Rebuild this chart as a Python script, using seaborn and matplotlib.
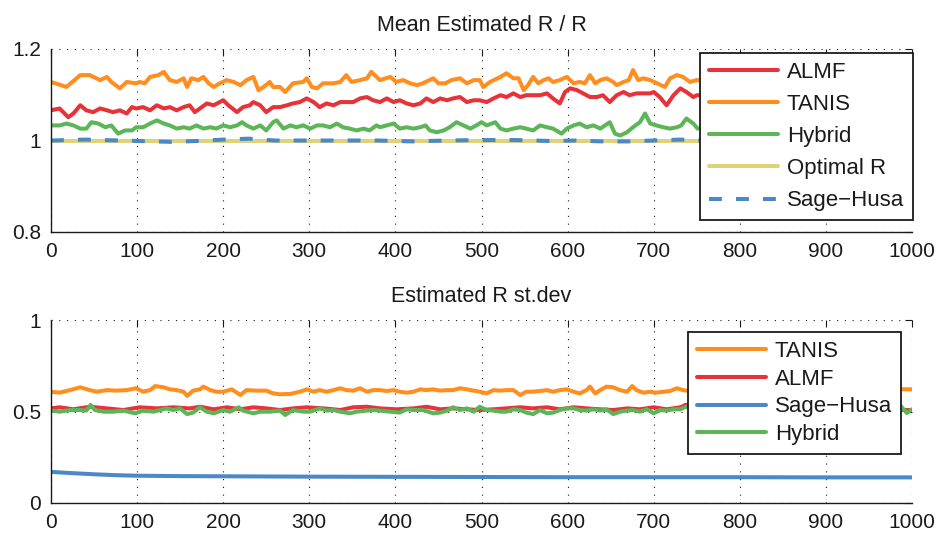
import matplotlib
matplotlib.use('Agg')
import matplotlib.pyplot as plt
import seaborn as sns
import numpy as np

# ---------------- data: top panel (Mean Estimated R / R) ----------------
almf_top_x = [0,10,20,26,34,41,49,57,65,72,80,88,94,99,107,115,123,131,138,146,154,161,167,173,181,189,196,200,206,216,223,231,235,243,250,258,266,274,281,289,297,305,312,320,328,336,343,351,359,367,374,
              382,390,398,405,413,421,429,436,444,452,460,467,475,483,491,498,506,514,522,529,537,545,552,560,568,576,583,591,597,603,611,618,626,634,641,649,657,665,672,680,688,696,700,707,715,723,731,738,746,750,
              770,800,830,860,900,930,960,1000]
almf_top_y = [1.066,1.070,1.051,1.059,1.077,1.066,1.062,1.070,1.066,1.062,1.066,1.059,1.073,1.070,1.073,1.066,1.077,1.070,1.073,1.066,1.073,1.077,1.062,1.070,1.081,1.077,1.084,1.088,1.077,1.062,1.073,1.077,1.084,1.077,1.062,1.073,1.073,1.077,1.081,1.084,1.092,1.084,1.073,1.081,1.077,1.084,1.084,1.084,1.092,1.095,1.088,
              1.084,1.092,1.084,1.088,1.081,1.077,1.081,1.092,1.084,1.092,1.088,1.092,1.095,1.084,1.088,1.088,1.084,1.092,1.099,1.095,1.103,1.095,1.099,1.099,1.099,1.103,1.092,1.081,1.106,1.114,1.110,1.103,1.095,1.095,1.099,1.084,1.099,1.106,1.099,1.103,1.103,1.103,1.106,1.095,1.077,1.099,1.114,1.106,1.095,1.099,
              1.098,1.104,1.096,1.101,1.097,1.103,1.099,1.100]

tanis_top_x = [0,18,34,45,57,65,70,80,88,99,103,109,115,125,131,138,146,154,158,163,171,177,183,189,196,204,212,220,227,235,241,247,254,258,266,272,281,293,297,303,309,316,328,336,343,349,359,367,372,
               382,394,401,409,417,425,432,444,450,458,465,475,483,491,498,502,510,522,529,537,543,549,554,560,566,572,578,583,591,599,607,614,620,626,632,638,645,653,657,665,671,676,682,688,696,704,713,719,727,734,742,750,
               770,800,830,860,900,930,960,1000]
tanis_top_y = [1.128,1.117,1.143,1.143,1.132,1.139,1.128,1.114,1.128,1.125,1.128,1.125,1.139,1.143,1.150,1.132,1.128,1.136,1.117,1.136,1.132,1.139,1.125,1.117,1.125,1.132,1.128,1.121,1.132,1.139,1.110,1.117,1.128,1.117,1.117,1.106,1.125,1.128,1.136,1.117,1.114,1.125,1.125,1.128,1.143,1.128,1.132,1.136,1.150,
               1.132,1.139,1.128,1.132,1.125,1.121,1.125,1.136,1.125,1.125,1.132,1.136,1.125,1.132,1.132,1.117,1.128,1.139,1.147,1.136,1.136,1.110,1.121,1.139,1.125,1.132,1.136,1.128,1.132,1.139,1.125,1.128,1.125,1.143,1.125,1.132,1.136,1.128,1.121,1.128,1.132,1.154,1.132,1.136,1.132,1.125,1.117,1.136,1.143,1.139,1.128,1.132,
               1.130,1.126,1.134,1.128,1.131,1.125,1.133,1.129]

hybrid_top_x = [0,10,18,26,34,41,47,55,63,70,78,86,94,99,107,115,123,131,138,146,154,161,169,177,185,192,200,208,216,222,227,235,243,250,258,262,270,278,285,293,301,309,316,324,332,339,347,355,363,370,378,
                382,390,398,405,413,421,429,435,440,448,456,463,471,479,487,494,500,506,516,522,529,537,545,552,560,568,576,583,593,599,607,614,622,630,638,649,655,661,669,676,684,690,696,703,711,719,727,732,738,746,751,
                770,800,830,860,900,930,960,1000]
hybrid_top_y = [1.033,1.033,1.037,1.033,1.026,1.026,1.040,1.037,1.029,1.033,1.015,1.022,1.022,1.029,1.029,1.037,1.044,1.037,1.033,1.026,1.029,1.026,1.033,1.026,1.029,1.026,1.033,1.029,1.033,1.040,1.033,1.026,1.033,1.022,1.040,1.044,1.026,1.033,1.029,1.033,1.026,1.033,1.033,1.029,1.037,1.029,1.026,1.022,1.026,1.022,1.033,
                1.029,1.033,1.037,1.026,1.029,1.026,1.029,1.033,1.022,1.018,1.022,1.029,1.040,1.033,1.026,1.033,1.040,1.033,1.040,1.026,1.022,1.026,1.029,1.026,1.022,1.033,1.029,1.026,1.015,1.026,1.033,1.037,1.029,1.033,1.026,1.040,1.015,1.011,1.018,1.029,1.040,1.059,1.037,1.033,1.029,1.026,1.029,1.033,1.048,1.037,1.026,
                1.031,1.027,1.034,1.029,1.032,1.026,1.030,1.033]

optimal_top_x = [0, 1000]
optimal_top_y = [1.0, 1.0]

sage_top_x = [0,40,80,120,140,170,200,230,260,300,340,380,420,460,500,540,580,610,640,670,700,730,760,800,850,900,950,1000]
sage_top_y = [1.000,1.002,1.000,0.998,0.997,0.999,1.002,1.004,1.000,1.000,1.000,1.000,0.998,1.000,1.001,1.001,0.999,1.000,0.998,0.998,1.000,1.002,1.000,1.000,1.001,0.999,1.000,1.000]

# ---------------- data: bottom panel (Estimated R st.dev) ----------------
tanis_bot_x = [0,10,22,34,45,53,65,76,88,99,107,115,121,131,138,146,154,158,165,173,177,185,192,200,210,220,227,239,250,258,266,278,289,297,305,312,320,328,336,343,351,359,367,374,
               382,390,398,405,413,421,429,436,444,452,460,467,475,483,491,498,506,514,522,529,537,545,552,560,568,576,583,591,599,607,614,622,626,632,638,645,653,661,669,675,680,688,696,703,711,719,727,734,738,
               770,810,850,890,930,970,990,1000]
tanis_bot_y = [0.608,0.603,0.617,0.632,0.617,0.608,0.617,0.614,0.617,0.627,0.608,0.617,0.639,0.632,0.621,0.617,0.608,0.585,0.614,0.621,0.636,0.617,0.608,0.608,0.621,0.590,0.617,0.614,0.614,0.599,0.594,0.596,0.608,0.621,0.608,0.617,0.608,0.617,0.627,0.617,0.614,0.627,0.608,0.617,
               0.617,0.612,0.617,0.608,0.603,0.608,0.621,0.617,0.621,0.614,0.617,0.617,0.627,0.621,0.614,0.608,0.599,0.617,0.614,0.617,0.617,0.590,0.608,0.608,0.612,0.617,0.608,0.617,0.621,0.608,0.599,0.617,0.636,0.599,0.617,0.636,0.632,0.617,0.608,0.639,0.617,0.603,0.608,0.603,0.608,0.612,0.627,0.617,0.614,
               0.612,0.619,0.608,0.615,0.610,0.618,0.622,0.621]

almf_bot_x = [0,10,26,45,65,84,103,123,142,161,173,189,204,220,235,250,266,281,297,316,328,336,351,367,
              382,401,421,436,452,467,483,498,514,529,545,560,576,591,607,622,638,653,669,684,700,715,731,737,
              770,820,870,920,960,990,1000]
almf_bot_y = [0.517,0.523,0.512,0.526,0.517,0.508,0.523,0.517,0.523,0.517,0.526,0.512,0.523,0.512,0.523,0.517,0.508,0.517,0.523,0.517,0.512,0.508,0.523,0.526,
              0.517,0.512,0.517,0.526,0.512,0.517,0.512,0.508,0.512,0.517,0.523,0.517,0.523,0.512,0.523,0.517,0.512,0.508,0.517,0.512,0.523,0.512,0.523,0.536,
              0.515,0.512,0.518,0.514,0.511,0.508,0.508]

sage_bot_x = [0,25,50,75,100,150,200,300,400,500,600,700,800,900,1000]
sage_bot_y = [0.170,0.163,0.157,0.152,0.149,0.147,0.146,0.144,0.143,0.142,0.141,0.141,0.141,0.140,0.140]

hybrid_bot_x = [0,10,22,34,41,46,51,61,72,84,98,107,119,127,134,142,150,158,165,173,181,189,200,208,218,223,235,243,254,266,272,281,293,301,312,320,328,336,347,355,367,374,
                382,394,405,413,421,432,444,452,460,467,475,483,491,498,506,514,522,529,537,545,552,560,568,576,583,591,599,607,614,622,630,638,645,653,661,669,676,684,692,700,707,715,723,731,737,
                770,820,870,920,960,987,994,1000]
hybrid_bot_y = [0.505,0.499,0.508,0.508,0.505,0.536,0.508,0.499,0.499,0.505,0.490,0.505,0.499,0.508,0.517,0.508,0.517,0.486,0.494,0.523,0.499,0.490,0.508,0.499,0.523,0.505,0.490,0.499,0.499,0.505,0.481,0.508,0.499,0.499,0.517,0.505,0.508,0.499,0.490,0.499,0.505,0.508,
                0.505,0.499,0.494,0.512,0.508,0.508,0.490,0.494,0.505,0.523,0.508,0.517,0.499,0.526,0.508,0.505,0.499,0.499,0.512,0.508,0.494,0.486,0.508,0.490,0.494,0.508,0.517,0.517,0.508,0.505,0.512,0.505,0.512,0.486,0.499,0.505,0.508,0.499,0.512,0.490,0.508,0.505,0.512,0.512,0.526,
                0.510,0.505,0.512,0.503,0.508,0.530,0.492,0.512]

x_ticks = [0, 100, 200, 300, 400, 500, 600, 700, 800, 900, 1000]
x_tick_labels = ['0', '100', '200', '300', '400', '500', '600', '700', '800', '900', '1000']
top_y_ticks = [0.8, 1.0, 1.2]
top_y_tick_labels = ['0.8', '1', '1.2']
bot_y_ticks = [0.0, 0.5, 1.0]
bot_y_tick_labels = ['0', '0.5', '1']

C_RED = '#E8323A'
C_ORANGE = '#FF8E1E'
C_GREEN = '#5CB657'
C_YELLOW = '#E0D27A'
C_BLUE = '#4A89C6'

sns.set_theme(style='white')
plt.rcParams['font.family'] = ['Liberation Sans', 'DejaVu Sans']
plt.rcParams['axes.unicode_minus'] = True

fig = plt.figure(figsize=(9.41, 5.34), dpi=100)
W, H = 941.0, 534.0
ax1 = fig.add_axes([51 / W, 1 - 232 / H, 861 / W, 183 / H])
ax2 = fig.add_axes([51 / W, 1 - 503 / H, 861 / W, 183 / H])

LW = 2.9

def draw(ax, xs, ys, color, label, ls='-'):
    sns.lineplot(x=xs, y=ys, ax=ax, color=color, linewidth=LW, label=label,
                 estimator=None, linestyle=ls)

draw(ax1, almf_top_x, almf_top_y, C_RED, 'ALMF')
draw(ax1, tanis_top_x, tanis_top_y, C_ORANGE, 'TANIS')
draw(ax1, hybrid_top_x, hybrid_top_y, C_GREEN, 'Hybrid')
draw(ax1, optimal_top_x, optimal_top_y, C_YELLOW, 'Optimal R')
draw(ax1, sage_top_x, sage_top_y, C_BLUE, 'Sage\u2212Husa', ls=(0, (3.2, 3.5)))

draw(ax2, tanis_bot_x, tanis_bot_y, C_ORANGE, 'TANIS')
draw(ax2, almf_bot_x, almf_bot_y, C_RED, 'ALMF')
draw(ax2, sage_bot_x, sage_bot_y, C_BLUE, 'Sage\u2212Husa')
draw(ax2, hybrid_bot_x, hybrid_bot_y, C_GREEN, 'Hybrid')

for ax, yt, ytl, ylim in [(ax1, top_y_ticks, top_y_tick_labels, (0.8, 1.2)),
                          (ax2, bot_y_ticks, bot_y_tick_labels, (0.0, 1.0))]:
    ax.set_xlim(0, 1000)
    ax.set_ylim(*ylim)
    ax.set_xticks(x_ticks)
    ax.set_xticklabels(x_tick_labels)
    ax.set_yticks(yt)
    ax.set_yticklabels(ytl)
    ax.set_xlabel('')
    ax.set_ylabel('')
    ax.grid(True, color='k', linestyle=(0, (1, 6)), linewidth=0.8)
    ax.set_axisbelow(True)
    for s in ['top', 'right']:
        ax.spines[s].set_visible(False)
    for s in ['left', 'bottom']:
        ax.spines[s].set_color('k')
        ax.spines[s].set_linewidth(1.0)
    ax.tick_params(direction='in', top=True, right=True, length=5, width=0.8,
                   colors='k', labelsize=15, pad=7)
    ax.set_facecolor('white')

ax1.set_title('Mean Estimated R / R', fontsize=15.5, pad=13, color='k')
ax2.set_title('Estimated R st.dev', fontsize=15.5, pad=13, color='k')

def make_legend(ax, anchor, spacing):
    h, l = ax.get_legend_handles_labels()
    leg = ax.legend(h, l, loc='upper right', bbox_to_anchor=anchor, borderaxespad=0,
                    fancybox=False, edgecolor='k', framealpha=1, fontsize=16,
                    handlelength=3.1, handletextpad=0.4, labelspacing=spacing,
                    borderpad=0.4)
    leg.get_frame().set_linewidth(1.3)
    for t in leg.get_texts():
        t.set_color('k')
    return leg

make_legend(ax1, (1.001, 0.978), 0.5)
make_legend(ax2, (0.987, 0.934), 0.3)

fig.savefig('out.png', dpi=100)
